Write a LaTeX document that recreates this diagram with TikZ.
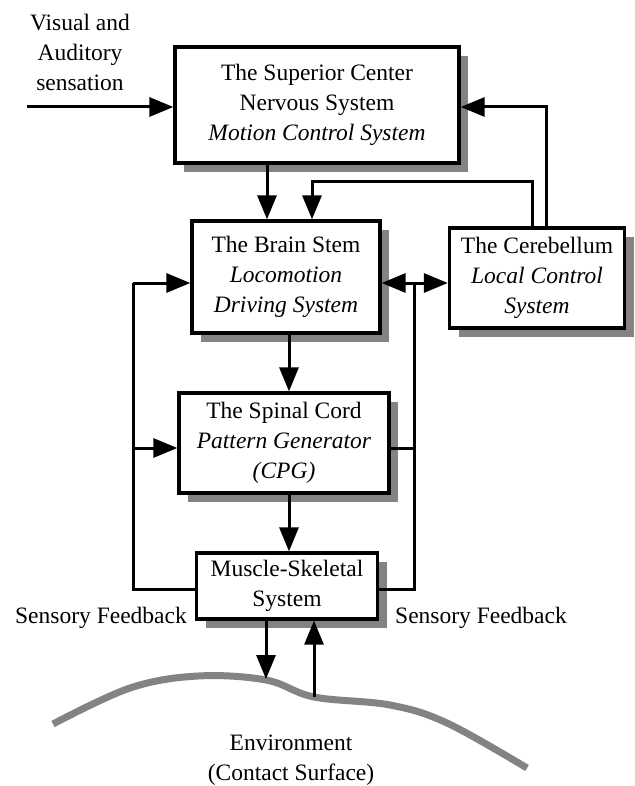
\documentclass[tikz,border=0pt]{standalone}
\usepackage{fontspec}
\setmainfont{Liberation Serif}
\usetikzlibrary{arrows.meta,shadows}
\definecolor{shadowgray}{HTML}{838383}

\begin{document}
\begin{tikzpicture}[x=1pt,y=-1pt,>={Triangle[length=24pt,width=19pt]},
    every node/.style={font=\fontsize{23.5}{30}\selectfont,align=center},
    block/.style={draw,line width=3.3pt,fill=white,inner sep=0pt,
        drop shadow={shadow xshift=9pt,shadow yshift=-9pt,fill=shadowgray,opacity=1}},
    wire/.style={line width=3pt},
    arr/.style={wire,->}]
    \useasboundingbox (0,0) rectangle (634,786);
    % blocks
    \node[block,minimum width=284pt,minimum height=116pt] (sup) at (317,105)
        {The Superior Center\\Nervous System\\\textit{Motion Control System}};
    \node[block,minimum width=188pt,minimum height=112pt] (bs) at (286,277)
        {The Brain Stem\\\textit{Locomotion}\\\textit{Driving System}};
    \node[block,minimum width=175pt,minimum height=100pt] (cb) at (537,278)
        {The Cerebellum\\\textit{Local Control}\\\textit{System}};
    \node[block,minimum width=210pt,minimum height=100pt] (sp) at (284,443)
        {The Spinal Cord\\\textit{Pattern Generator}\\\textit{(CPG)}};
    \node[block,minimum width=181pt,minimum height=66pt] (mus) at (287,586)
        {Muscle-Skeletal\\System};
    % labels
    \node (vislbl) at (80,52) {Visual and\\Auditory\\sensation};
    \node (fbl) at (101,618) {Sensory Feedback};
    \node (fbr) at (481,618) {Sensory Feedback};
    \node (env) at (291,760) {Environment\\(Contact Surface)};
    % ground
    \draw[shadowgray,line width=7pt] plot[smooth,tension=0.6] coordinates
        {(53,724) (130,688) (198,676) (266,680) (314,697) (390,705) (447,723) (527,768)};
    \coordinate (vis) at (27,107);
    \coordinate (gdown) at (266,679);
    \coordinate (gup) at (314,697);
    \coordinate (lj) at (133,283);
    \coordinate (rj) at (414,283);
    % connectors
    \draw[arr] (vis) -- (vis -| sup.west);
    \draw[arr] (267,0 |- sup.south) -- (267,0 |- bs.north);
    \draw[arr] (532,0 |- cb.north) |- (312,182) -- (312,0 |- bs.north);
    \draw[arr] (546,0 |- cb.north) |- (sup.east |- vis);
    \draw[wire,<->] (rj -| bs.east) -- (rj -| cb.west);
    \draw[arr] (289,0 |- bs.south) -- (289,0 |- sp.north);
    \draw[arr] (289,0 |- sp.south) -- (289,0 |- mus.north);
    \draw[arr] (mus.south -| gdown) -- (gdown);
    \draw[arr] (gup) -- (mus.south -| gup);
    % feedback loops
    \draw[wire] (mus.west |- 0,589) -| (lj);
    \draw[arr] (lj) -- (lj -| bs.west);
    \draw[arr] (lj |- 0,448) -- (sp.west |- 0,448);
    \draw[wire] (mus.east |- 0,589) -| (rj);
    \draw[wire] (sp.east |- 0,448) -- (rj |- 0,448);
\end{tikzpicture}
\end{document}
